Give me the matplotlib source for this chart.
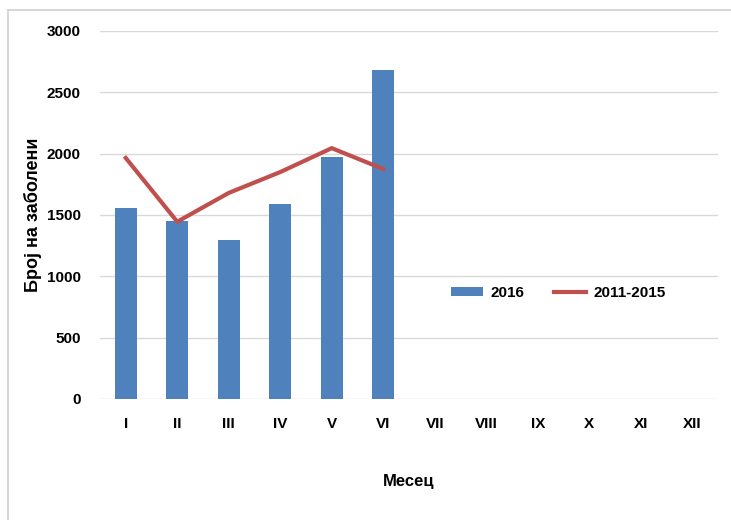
import matplotlib.pyplot as plt
from matplotlib.lines import Line2D

plt.rcParams['font.family'] = ['Liberation Sans', 'DejaVu Sans']
plt.rcParams['font.weight'] = 'bold'

# Податоци
months = ['I', 'II', 'III', 'IV', 'V', 'VI', 'VII', 'VIII', 'IX', 'X', 'XI', 'XII']
cases_2016 = [1560, 1450, 1300, 1590, 1975, 2680]
avg_2011_2015 = [1965, 1445, 1680, 1850, 2045, 1875]

fig = plt.figure(figsize=(7.31, 5.2), dpi=100)
ax = fig.add_axes([0.1368, 0.2327, 0.8454, 0.7077])

x = list(range(len(months)))
bars = ax.bar(x[:len(cases_2016)], cases_2016, width=0.43, color='#4f81bd', label='2016', zorder=3)
line, = ax.plot(x[:len(avg_2011_2015)], avg_2011_2015, color='#c0504d', linewidth=3,
                label='2011-2015', zorder=4)

ax.set_xlim(-0.5, len(months) - 0.5)
ax.set_ylim(0, 3000)
ax.set_yticks(range(0, 3001, 500))
ax.set_xticks(x)
ax.set_xticklabels(months)
ax.tick_params(axis='both', length=0, labelsize=11)
ax.tick_params(axis='x', pad=13)
ax.tick_params(axis='y', pad=14)
ax.grid(axis='y', color='#d9d9d9', linewidth=1, zorder=0)
for s in ax.spines.values():
    s.set_visible(False)

ax.set_xlabel('Месец', fontsize=12, fontweight='bold', labelpad=31)
ax.set_ylabel('Број на заболени', fontsize=13, fontweight='bold', labelpad=3)

ax.legend([bars, line], ['2016', '2011-2015'], loc='center', bbox_to_anchor=(0.742, 0.288),
          ncol=2, frameon=False, fontsize=11, handlelength=2.1, columnspacing=1.9,
          handletextpad=0.5, handleheight=0.5)

# рамка околу графиконот
fig.add_artist(Line2D([8 / 731, 1], [1 - 10 / 520, 1 - 10 / 520], color='#d0d0d0', linewidth=1.2))
fig.add_artist(Line2D([8 / 731, 8 / 731], [0, 1 - 10 / 520], color='#d0d0d0', linewidth=1.2))

fig.savefig('out.png', dpi=100)
